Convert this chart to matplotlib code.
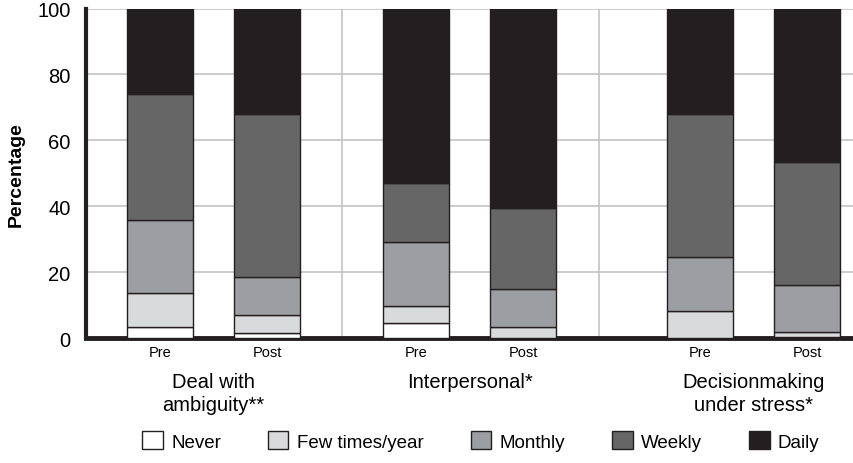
import numpy as np
import matplotlib.pyplot as plt
from matplotlib.patches import Patch

plt.rcParams['font.family'] = ['Liberation Sans', 'DejaVu Sans']

categories = ['Never', 'Few times/year', 'Monthly', 'Weekly', 'Daily']
bar_labels = ['Pre', 'Post', 'Pre', 'Post', 'Pre', 'Post']
group_labels = ['Deal with\nambiguity**', 'Interpersonal*', 'Decisionmaking\nunder stress*']

never = [3.4, 1.7, 4.6, 0.0, 0.0, 0.5]
few = [10.3, 5.2, 5.1, 3.4, 8.1, 1.4]
monthly = [22.1, 11.8, 19.4, 11.5, 16.5, 14.1]
weekly = [38.2, 49.3, 17.9, 24.6, 43.4, 37.4]
daily = [26.0, 32.0, 53.0, 60.5, 32.0, 46.6]

colors = ['#ffffff', '#d9dadb', '#9d9ea1', '#666667', '#231f20']
series = [never, few, monthly, weekly, daily]

# bar centres (axis units ~ pixels)
xpos = np.array([74, 181, 330.5, 437.5, 614, 721])
width = 66

fig = plt.figure(figsize=(8.54, 4.64), dpi=100)
ax = fig.add_axes([0.1007, 0.269, 0.8993, 0.7105])

bottom = np.zeros(len(xpos))
for vals, col in zip(series, colors):
    ax.bar(xpos, vals, width, bottom=bottom, color=col, edgecolor='#231f20',
           linewidth=1.0, zorder=3)
    bottom += np.array(vals)

for y in [20, 40, 60, 80, 100]:
    ax.axhline(y, color='#c4c4c4', linewidth=1.2, zorder=1)
for x in [256, 513]:
    ax.axvline(x, color='#c4c4c4', linewidth=1.2, zorder=1)

ax.set_xlim(0, 768)
ax.set_ylim(0, 100)
ax.set_yticks([0, 20, 40, 60, 80, 100])
ax.tick_params(axis='y', length=0, labelsize=14.5, pad=11)
ax.set_xticks(xpos)
ax.set_xticklabels(bar_labels, fontsize=10.5)
ax.tick_params(axis='x', length=0, pad=5)
ax.set_ylabel('Percentage', fontsize=14, fontweight='bold', labelpad=9)

for s in ['top', 'right']:
    ax.spines[s].set_visible(False)
ax.spines['left'].set_linewidth(3)
ax.spines['bottom'].set_linewidth(3.5)
ax.spines['left'].set_color('#231f20')
ax.spines['bottom'].set_color('#231f20')

for i, lab in enumerate(group_labels):
    xc = (xpos[2 * i] + xpos[2 * i + 1]) / 2
    ax.text(xc, -10.3, lab, ha='center', va='top', fontsize=14.5,
            linespacing=1.25)

handles = [Patch(facecolor=c, edgecolor='#231f20', linewidth=1.0) for c in colors]
fig.legend(handles, categories, loc='lower center', bbox_to_anchor=(0.563, -0.01),
           ncol=5, frameon=False, fontsize=13.5, handlelength=1.1, handleheight=1.1,
           columnspacing=2.5, handletextpad=0.45)

fig.savefig('out.png', dpi=100)
